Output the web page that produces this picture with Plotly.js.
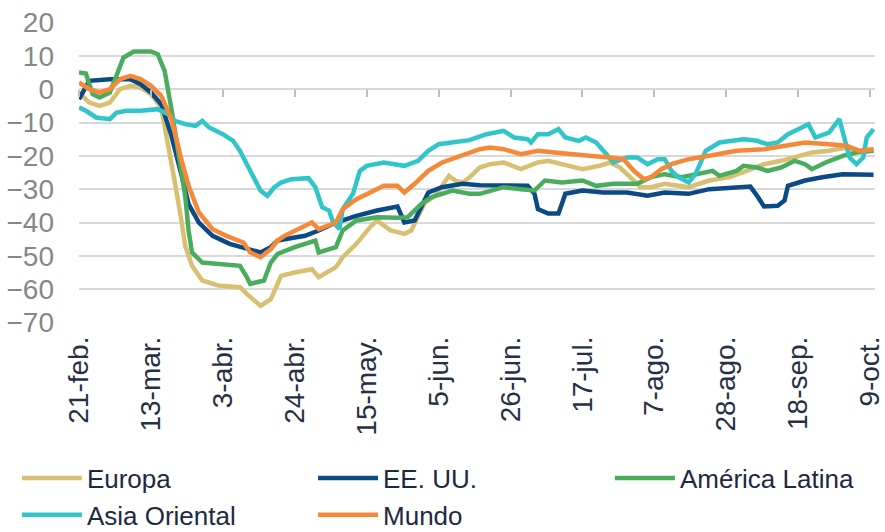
<!DOCTYPE html>
<html>
<head>
<meta charset="utf-8">
<script src="https://cdn.plot.ly/plotly-3.0.1.min.js"></script>
<style>
  html, body { margin: 0; padding: 0; background: #ffffff; }
  #chart { width: 885px; height: 532px; }
</style>
</head>
<body>
<div id="chart"></div>
<script>
// ---- Tick labels (category axis) ----
const tickDates = ['2020-02-21','2020-03-13','2020-04-03','2020-04-24','2020-05-15','2020-06-05',
                   '2020-06-26','2020-07-17','2020-08-07','2020-08-28','2020-09-18','2020-10-09'];
const tickLabels = ['21-feb.','13-mar.','3-abr.','24-abr.','15-may.','5-jun.',
                    '26-jun.','17-jul.','7-ago.','28-ago.','18-sep.','9-oct.'];

// ---- Europa ----
const europaDates = ['2020-02-21','2020-02-24','2020-02-27','2020-03-01','2020-03-04','2020-03-07','2020-03-10',
  '2020-03-13','2020-03-16','2020-03-18','2020-03-20','2020-03-22','2020-03-23','2020-03-25','2020-03-28',
  '2020-04-02','2020-04-08','2020-04-10','2020-04-12','2020-04-14','2020-04-17','2020-04-18','2020-04-20',
  '2020-04-24','2020-04-29','2020-05-01','2020-05-06','2020-05-08','2020-05-12','2020-05-16','2020-05-18',
  '2020-05-22','2020-05-26','2020-05-28','2020-05-30','2020-06-01','2020-06-04','2020-06-08','2020-06-10',
  '2020-06-12','2020-06-14','2020-06-17','2020-06-20','2020-06-24','2020-06-29','2020-07-04','2020-07-07',
  '2020-07-11','2020-07-17','2020-07-22','2020-07-25','2020-07-28','2020-07-31','2020-08-03','2020-08-06',
  '2020-08-10','2020-08-14','2020-08-17','2020-08-23','2020-08-29','2020-09-03','2020-09-08','2020-09-13',
  '2020-09-18','2020-09-22','2020-09-27','2020-10-02','2020-10-06','2020-10-10'];
const europaValues = [-1,-4,-5,-4,0,1,0.5,
  -1.5,-5.5,-16,-28,-40,-47,-53,-57.4,
  -59,-59.4,-61.4,-63.4,-65,-63,-60.4,-56,
  -55,-54,-56.4,-53.4,-50.4,-46.4,-41.4,-39.4,
  -42.4,-43.4,-42.4,-38.4,-34,-32,-26,-27.5,
  -28,-26.5,-23.5,-22.5,-22,-24,-22,-21.5,
  -22.5,-24,-23,-22,-23.5,-26.4,-29.4,-29.4,
  -28.4,-29,-29.4,-27.4,-26.4,-24.5,-22.5,-21.5,
  -20,-19,-18.5,-17.5,-18.5,-18.5];

// ---- EE. UU. ----
const eeuuDates = ['2020-02-21','2020-02-22','2020-02-24','2020-03-01','2020-03-07','2020-03-10','2020-03-13',
  '2020-03-16','2020-03-19','2020-03-22','2020-03-24','2020-03-27','2020-03-31','2020-04-05','2020-04-09',
  '2020-04-12','2020-04-14','2020-04-17','2020-04-19','2020-04-21','2020-04-27','2020-05-01','2020-05-06',
  '2020-05-12','2020-05-18','2020-05-24','2020-05-26','2020-05-29','2020-05-31','2020-06-02','2020-06-06',
  '2020-06-12','2020-06-17','2020-06-24','2020-07-01','2020-07-03','2020-07-04','2020-07-07','2020-07-10',
  '2020-07-11','2020-07-12','2020-07-17','2020-07-23','2020-07-30','2020-08-05','2020-08-10','2020-08-17',
  '2020-08-23','2020-08-31','2020-09-04','2020-09-06','2020-09-08','2020-09-12','2020-09-14','2020-09-15',
  '2020-09-20','2020-09-25','2020-10-01','2020-10-10'];
const eeuuValues = [-3,-1,2.5,3,3,1.5,-1,
  -4.5,-14,-26,-34.5,-40,-44,-46.4,-47.4,
  -48.4,-49,-47.4,-45.4,-45,-44,-42.4,-40,
  -38,-36.4,-35.2,-40,-39.4,-35.4,-31,-29.4,
  -28.4,-28.8,-29,-29,-31.4,-36,-37.3,-37.3,
  -34.4,-31.4,-30.4,-31,-31,-32,-31,-31.4,
  -30,-29.4,-29.2,-32,-35.2,-35,-33.4,-29,
  -27.4,-26.4,-25.5,-25.7];

// ---- América Latina ----
const latamDates = ['2020-02-21','2020-02-23','2020-02-25','2020-02-27','2020-03-01','2020-03-03','2020-03-05',
  '2020-03-08','2020-03-13','2020-03-15','2020-03-17','2020-03-19','2020-03-21','2020-03-23','2020-03-24',
  '2020-03-25','2020-03-28','2020-04-02','2020-04-08','2020-04-10','2020-04-11','2020-04-15','2020-04-17',
  '2020-04-19','2020-04-24','2020-04-30','2020-05-01','2020-05-06','2020-05-08','2020-05-12','2020-05-18',
  '2020-05-24','2020-05-27','2020-05-31','2020-06-03','2020-06-09','2020-06-14','2020-06-17','2020-06-20',
  '2020-06-24','2020-06-29','2020-07-03','2020-07-06','2020-07-11','2020-07-17','2020-07-21','2020-07-26',
  '2020-08-02','2020-08-06','2020-08-10','2020-08-15','2020-08-20','2020-08-24','2020-08-26','2020-08-31',
  '2020-09-02','2020-09-06','2020-09-09','2020-09-13','2020-09-17','2020-09-20','2020-09-22','2020-09-26',
  '2020-10-01','2020-10-05','2020-10-10'];
const latamValues = [5,4.7,-1.5,-2.5,-1,4.5,9.5,
  11.3,11.3,10.5,5.5,-6,-19,-32,-42.4,
  -49,-52,-52.6,-53,-56.4,-58.4,-57.4,-52,
  -49.4,-47.4,-45.4,-49,-47.4,-42.4,-39.4,-38.4,
  -38.6,-38.4,-34.4,-32.4,-30.4,-31.4,-31.4,-30.4,
  -29.4,-30,-30.4,-27.4,-28,-27.4,-29,-28.4,
  -28.4,-26.4,-25.5,-26.4,-25.5,-24.5,-26,-24.5,
  -23,-23.5,-24.5,-23.5,-21.5,-22.5,-24,-22,
  -20,-19,-18.5];

// ---- Asia Oriental ----
const asiaDates = ['2020-02-21','2020-02-23','2020-02-26','2020-03-01','2020-03-02','2020-03-03','2020-03-06',
  '2020-03-10','2020-03-15','2020-03-18','2020-03-20','2020-03-23','2020-03-26','2020-03-28','2020-03-30',
  '2020-04-03','2020-04-06','2020-04-08','2020-04-10','2020-04-12','2020-04-14','2020-04-16','2020-04-18',
  '2020-04-20','2020-04-23','2020-04-28','2020-04-30','2020-05-02','2020-05-04','2020-05-05','2020-05-07',
  '2020-05-08','2020-05-11','2020-05-13','2020-05-15','2020-05-20','2020-05-26','2020-05-30','2020-06-02',
  '2020-06-05','2020-06-10','2020-06-14','2020-06-19','2020-06-24','2020-06-27','2020-07-01','2020-07-02',
  '2020-07-04','2020-07-07','2020-07-10','2020-07-12','2020-07-16','2020-07-18','2020-07-21','2020-07-24',
  '2020-07-26','2020-07-30','2020-08-02','2020-08-05','2020-08-08','2020-08-10','2020-08-12','2020-08-14',
  '2020-08-17','2020-08-19','2020-08-22','2020-08-26','2020-09-02','2020-09-06','2020-09-09','2020-09-12',
  '2020-09-15','2020-09-18','2020-09-21','2020-09-23','2020-09-27','2020-09-30','2020-10-01','2020-10-03',
  '2020-10-05','2020-10-07','2020-10-08','2020-10-10'];
const asiaValues = [-5.5,-6.5,-8.5,-9,-8,-7,-6.5,
  -6.5,-6,-7.5,-9.5,-10.5,-11,-9.5,-11.5,
  -13.5,-15.5,-18.5,-22.5,-26.4,-30.4,-32,-29.5,
  -28,-27,-26.7,-29.4,-35.4,-36.4,-39.4,-42,
  -36,-31.4,-24.5,-23,-22,-23,-21.5,-18.5,
  -16.5,-16,-15.3,-13.5,-12.5,-14.5,-15,-16,
  -13.5,-13.5,-12,-14.5,-15.5,-14.5,-16,-19.5,
  -22,-20.5,-20.5,-22.5,-21,-21,-24.5,-26.4,
  -28,-25.5,-18.5,-16,-15,-15.5,-16.5,-16,
  -13.5,-12,-10.5,-14.5,-13,-9,-13,-20.5,
  -22.5,-20.5,-14.5,-12];

// ---- Mundo ----
const mundoDates = ['2020-02-21','2020-02-24','2020-02-27','2020-03-01','2020-03-04','2020-03-07','2020-03-10',
  '2020-03-13','2020-03-16','2020-03-19','2020-03-22','2020-03-24','2020-03-27','2020-03-31','2020-04-04',
  '2020-04-09','2020-04-11','2020-04-14','2020-04-17','2020-04-19','2020-04-21','2020-04-26','2020-04-29',
  '2020-05-01','2020-05-06','2020-05-08','2020-05-12','2020-05-16','2020-05-20','2020-05-24','2020-05-26',
  '2020-05-29','2020-06-02','2020-06-06','2020-06-10','2020-06-14','2020-06-17','2020-06-20','2020-06-24',
  '2020-06-29','2020-07-04','2020-07-09','2020-07-13','2020-07-19','2020-07-25','2020-07-29','2020-08-01',
  '2020-08-04','2020-08-06','2020-08-09','2020-08-12','2020-08-15','2020-08-17','2020-08-23','2020-08-31',
  '2020-09-08','2020-09-14','2020-09-20','2020-09-27','2020-10-02','2020-10-06','2020-10-10'];
const mundoValues = [2,0,-1,0,3,4,3,
  1,-2,-9,-21.5,-29,-37,-42,-44,
  -46,-49,-50.4,-48,-45.4,-44,-41.4,-40,
  -42,-40,-36,-33,-31,-29,-29,-31,
  -28.4,-24.5,-22,-20.5,-18.8,-18,-17.5,-18,
  -19.5,-18.5,-19,-19.5,-20,-20.5,-21,-24.5,
  -27,-26.4,-24,-22.5,-21.5,-21,-20,-18.5,
  -18,-17,-16,-16.5,-17,-18.5,-18];

const seriesNames = ['Europa','EE. UU.','América Latina','Asia Oriental','Mundo'];
const seriesColors = ['#d8c073','#0b4a85','#4aad5e','#30c5c9','#f6883a'];

const FONT = '"Liberation Sans", Arial, sans-serif';
const yMin = -70, yMax = 20, pad = 0.15;
const zeroPos = (0 - (yMin - pad)) / ((yMax + pad) - (yMin - pad));
const xRange = ['2020-02-21', '2020-10-10 10:00'];

const lineW = 4.5;
function mk(i, xs, ys, legendId) {
  return {
    type: 'scatter', mode: 'lines', name: seriesNames[i], x: xs, y: ys,
    line: { color: seriesColors[i], width: lineW, shape: 'linear' },
    legend: legendId, hoverinfo: 'x+y+name'
  };
}

const traces = [
  mk(0, europaDates, europaValues, 'legend'),
  mk(1, eeuuDates, eeuuValues, 'legend2'),
  mk(2, latamDates, latamValues, 'legend3'),
  mk(3, asiaDates, asiaValues, 'legend'),
  mk(4, mundoDates, mundoValues, 'legend2'),
  { type: 'scatter', mode: 'lines', x: [tickDates[0]], y: [null], xaxis: 'x2', yaxis: 'y',
    showlegend: false, hoverinfo: 'skip' }
];

const legendCommon = {
  orientation: 'v', yanchor: 'top', xanchor: 'left', y: -0.437,
  font: { family: FONT, size: 26, color: '#1e2942' },
  itemwidth: 60, bgcolor: 'rgba(0,0,0,0)', borderwidth: 0, tracegroupgap: 0
};

const layout = {
  width: 885, height: 532,
  margin: { l: 79, r: 10, t: 22, b: 209, autoexpand: false },
  paper_bgcolor: '#ffffff', plot_bgcolor: '#ffffff',
  showlegend: true,
  xaxis: {
    type: 'date', range: xRange, automargin: false,
    tickmode: 'array', tickvals: tickDates, ticktext: tickLabels,
    tickangle: -90, ticks: '', showgrid: false, zeroline: false, showline: false,
    tickfont: { family: FONT, size: 28, color: '#262f45' },
    ticklabelstandoff: 7, ticklabeloverflow: 'allow', fixedrange: true
  },
  xaxis2: {
    type: 'date', range: xRange, overlaying: 'x', anchor: 'free', position: zeroPos,
    tickmode: 'array', tickvals: tickDates, showticklabels: false,
    ticks: 'outside', ticklen: 7, tickwidth: 2, tickcolor: '#bfbfbf',
    showgrid: false, zeroline: false, showline: false, fixedrange: true
  },
  yaxis: {
    range: [yMin - pad, yMax + pad], tickmode: 'linear', tick0: 0, dtick: 10, automargin: false,
    showgrid: true, gridcolor: '#d9d9d9', gridwidth: 2, zeroline: false, showline: false,
    ticks: '', tickfont: { family: FONT, size: 28, color: '#878787' },
    ticklabelstandoff: 24, fixedrange: true
  },
  legend: Object.assign({}, legendCommon, { x: -0.078 }),
  legend2: Object.assign({}, legendCommon, { x: 0.294 }),
  legend3: Object.assign({}, legendCommon, { x: 0.667 })
};

Plotly.newPlot('chart', traces, layout, { displayModeBar: false, staticPlot: true });
</script>
</body>
</html>
